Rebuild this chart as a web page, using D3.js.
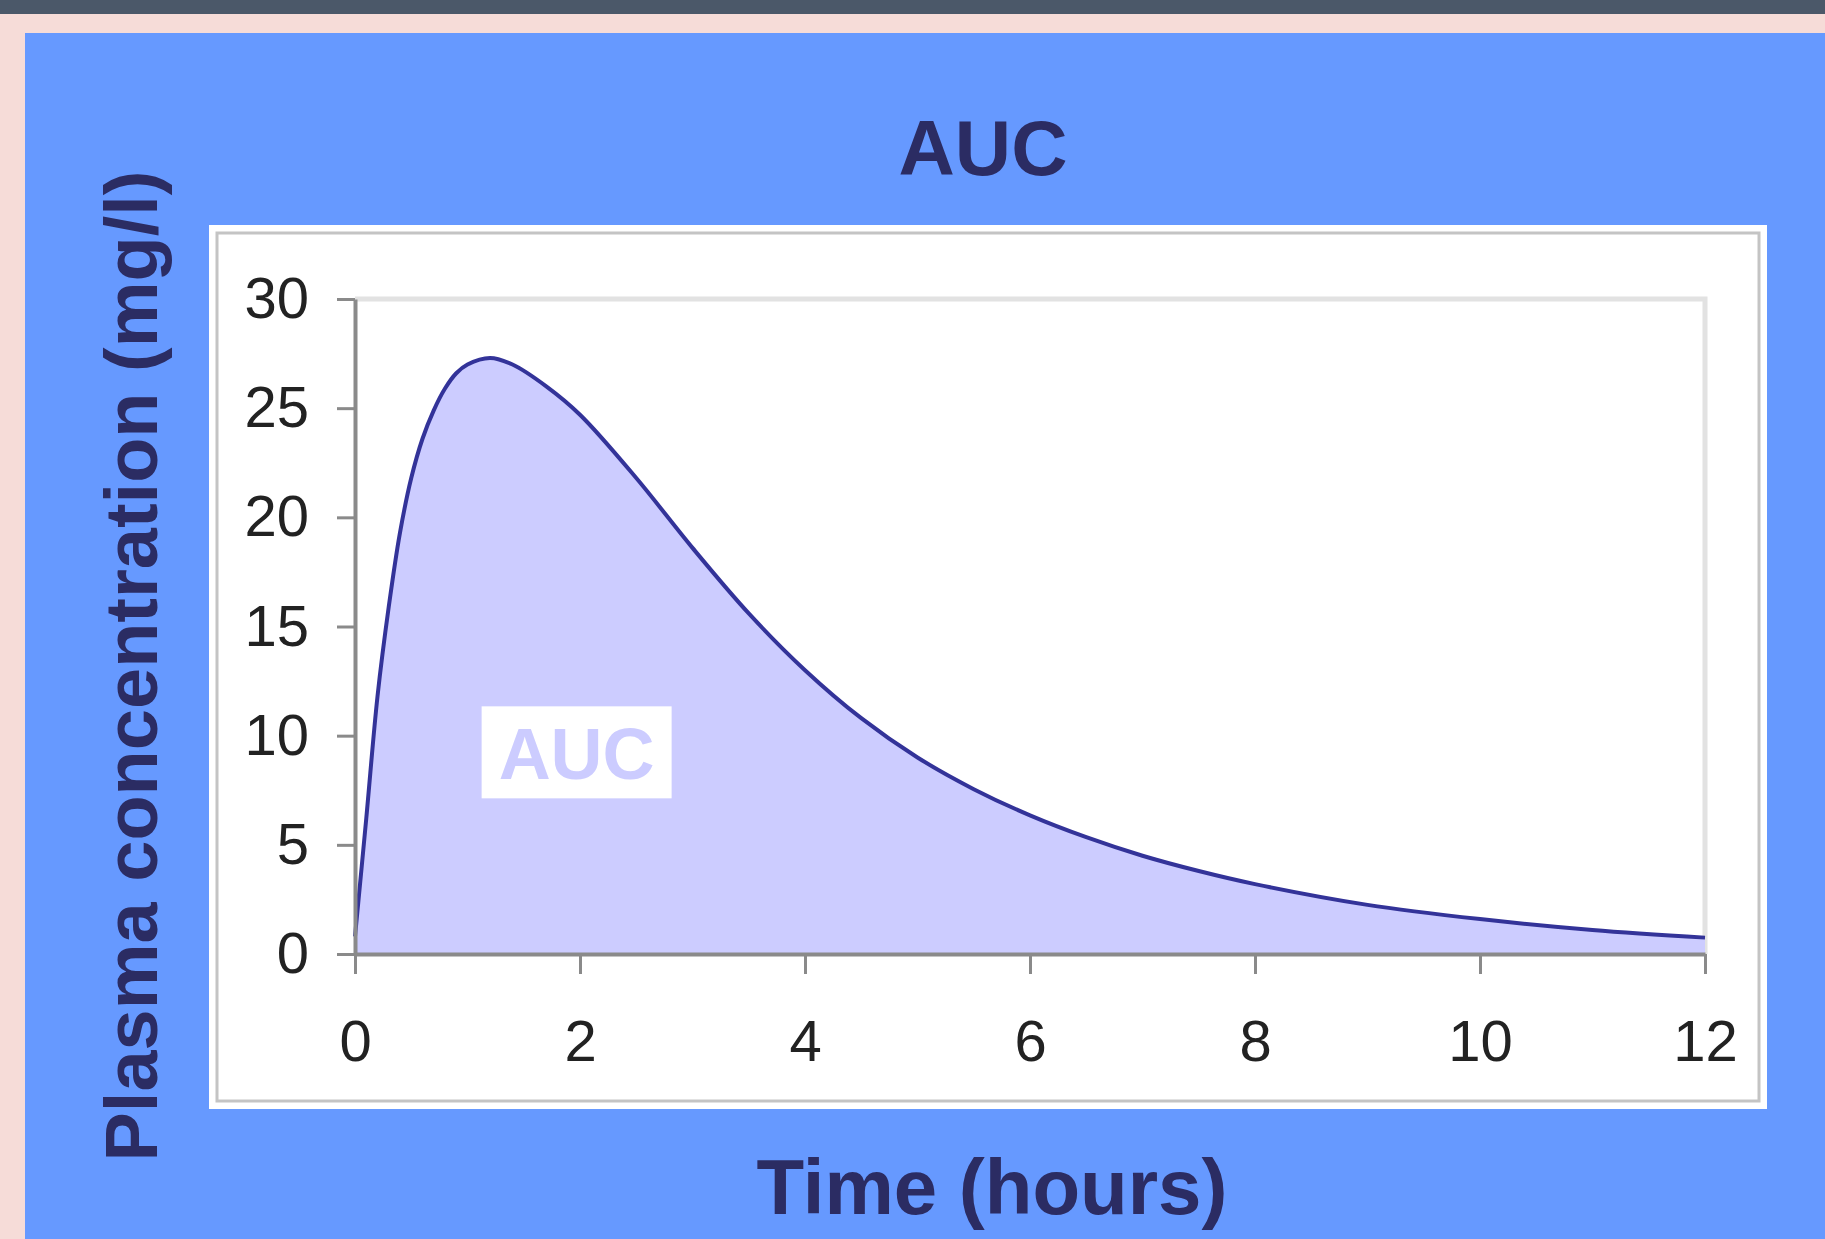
<!DOCTYPE html>
<html>
<head>
<meta charset="utf-8">
<script src="https://cdn.jsdelivr.net/npm/d3@7"></script>
<style>
  html, body { margin: 0; padding: 0; background: #f6dcd8; }
  svg { display: block; font-family: Arial, "Liberation Sans", sans-serif; }
</style>
</head>
<body>
<svg width="1825" height="1239"></svg>
<script>
// concentration curve
var hours = [0, 0.1, 0.2, 0.3, 0.4, 0.5, 0.6, 0.7, 0.8, 0.9, 1, 1.2, 1.4, 1.7, 2, 2.5, 3, 3.5, 4, 4.5, 5, 5.5, 6, 6.5, 7, 7.5, 8, 9, 10, 11, 12];
var conc = [0.8, 6.2, 11.8, 15.9, 19.3, 21.8, 23.6, 24.9, 25.9, 26.6, 27.0, 27.3, 27.0, 26.0, 24.7, 21.8, 18.6, 15.6, 13.0, 10.8, 9.0, 7.55, 6.35, 5.35, 4.5, 3.8, 3.2, 2.25, 1.6, 1.1, 0.75];
var xTicks = [0, 2, 4, 6, 8, 10, 12];
var yTicks = [0, 5, 10, 15, 20, 25, 30];

var svg = d3.select('svg');

var data = hours.map(function(h, i) { return {t: h, c: conc[i]}; });

// page background bits
svg.append('rect').attr('x', 0).attr('y', 0).attr('width', 1825).attr('height', 14).attr('fill', '#4b5869');
svg.append('rect').attr('x', 25).attr('y', 33).attr('width', 1800).attr('height', 1206).attr('fill', '#6699ff');

// white chart box with its inner frame
svg.append('rect').attr('x', 209).attr('y', 225).attr('width', 1558).attr('height', 884).attr('fill', '#fff');
svg.append('rect').attr('x', 217).attr('y', 233).attr('width', 1542).attr('height', 868)
  .attr('fill', 'none').attr('stroke', '#c4c4c4').attr('stroke-width', 3);

var x = d3.scaleLinear().domain([0, 12]).range([355, 1705]),
    y = d3.scaleLinear().domain([0, 30]).range([954, 299]);

// plot area border (top + right)
svg.append('path')
  .attr('d', 'M' + x(0) + ',' + y(30) + 'H' + x(12) + 'V' + y(0))
  .attr('fill', 'none').attr('stroke', '#e2e2e2').attr('stroke-width', 5);

var area = d3.area()
  .x(function(d) { return x(d.t); })
  .y0(y(0))
  .y1(function(d) { return y(d.c); })
  .curve(d3.curveCatmullRom.alpha(0.5));

var line = d3.line()
  .x(function(d) { return x(d.t); })
  .y(function(d) { return y(d.c); })
  .curve(d3.curveCatmullRom.alpha(0.5));

svg.append('path').datum(data).attr('d', area).attr('fill', '#ccccff');
svg.append('path').datum(data).attr('d', line)
  .attr('fill', 'none').attr('stroke', '#333399').attr('stroke-width', 4);

var xAxis = svg.append('g')
  .attr('transform', 'translate(0,' + y(0) + ')')
  .call(d3.axisBottom(x).tickValues(xTicks).tickSize(20).tickPadding(46).tickSizeOuter(0));

var yAxis = svg.append('g')
  .attr('transform', 'translate(' + x(0) + ',0)')
  .call(d3.axisLeft(y).tickValues(yTicks).tickSize(18).tickPadding(28).tickSizeOuter(0));

[xAxis, yAxis].forEach(function(ax) {
  ax.select('.domain').attr('stroke', '#8a8a8a').attr('stroke-width', 4);
  ax.selectAll('.tick line').attr('stroke', '#8a8a8a').attr('stroke-width', 3);
  ax.selectAll('.tick text').attr('fill', '#222').style('font-size', '58px')
    .style('font-family', 'Arial, "Liberation Sans", sans-serif');
});

// in-chart label
var lx = x(1.97), ly = y(8);
svg.append('rect').attr('x', lx - 95).attr('y', ly - 73).attr('width', 190).attr('height', 92).attr('fill', '#fff');
svg.append('text').attr('x', lx).attr('y', ly)
  .attr('text-anchor', 'middle').attr('fill', '#ccccff')
  .style('font-size', '72px').style('font-weight', 'bold').text('AUC');

// titles
svg.append('text').attr('x', 983).attr('y', 175)
  .attr('text-anchor', 'middle').attr('fill', '#2b2c63')
  .style('font-size', '78px').style('font-weight', 'bold').text('AUC');

svg.append('text').attr('x', 992).attr('y', 1214)
  .attr('text-anchor', 'middle').attr('fill', '#2b2c63')
  .style('font-size', '78px').style('font-weight', 'bold').text('Time (hours)');

svg.append('text')
  .attr('transform', 'translate(157,666) rotate(-90)')
  .attr('text-anchor', 'middle').attr('fill', '#2b2c63')
  .style('font-size', '74px').style('font-weight', 'bold').text('Plasma concentration (mg/l)');
</script>
</body>
</html>
